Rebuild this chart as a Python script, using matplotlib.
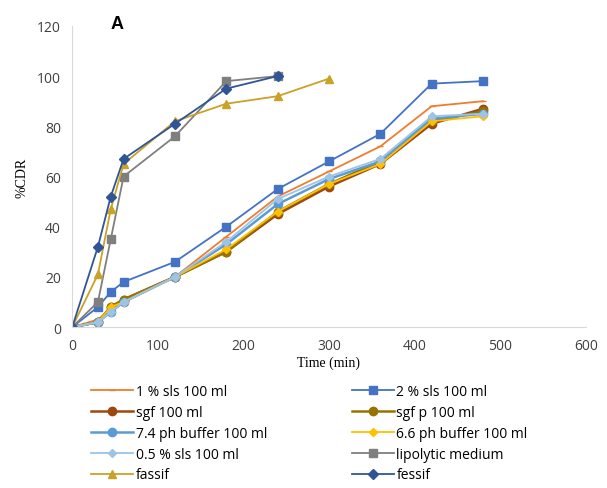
import matplotlib.pyplot as plt

# sampling times (min)
t_long = [0, 30, 45, 60, 120, 180, 240, 300, 360, 420, 480]
t_short = [0, 30, 45, 60, 120, 180, 240]
t_fassif = [0, 30, 45, 60, 120, 180, 240, 300]

# %CDR values
sls1 = [0, 3, 7, 10, 20, 36, 52, 62, 72, 88, 90]
sls2 = [0, 8, 14, 18, 26, 40, 55, 66, 77, 97, 98]
sgf = [0, 2, 8, 11, 20, 30, 45, 56, 65, 81, 87]
sgf_p = [0, 2, 8, 11, 20, 30, 46, 57, 66, 82, 86]
ph74 = [0, 2, 6, 10, 20, 33, 49, 59, 66, 83, 85]
ph66 = [0, 2, 8, 10, 20, 31, 46, 57, 65, 82, 84]
sls05 = [0, 2, 6, 10, 20, 34, 51, 60, 67, 84, 85]
lipolytic = [0, 10, 35, 60, 76, 98, 100]
fassif = [0, 21, 47, 65, 82, 89, 92, 99]
fessif = [0, 32, 52, 67, 81, 95, 100]

fig = plt.figure(figsize=(6.07, 4.89), dpi=100)
ax = fig.add_axes([0.119, 0.329, 0.846, 0.616])

# label, x, y, color, marker, markersize, linewidth
series = [
    ('1 % sls 100 ml', t_long, sls1, '#ED7D31', '_', 4, 1.3),
    ('2 % sls 100 ml', t_long, sls2, '#4472C4', 's', 6, 1.3),
    ('sgf 100 ml', t_long, sgf, '#9E480E', 'o', 6, 1.8),
    ('sgf p 100 ml', t_long, sgf_p, '#997300', 'o', 6, 1.8),
    ('7.4 ph buffer 100 ml', t_long, ph74, '#5B9BD5', 'o', 6, 1.8),
    ('6.6 ph buffer 100 ml', t_long, ph66, '#FFC000', 'D', 4, 1.3),
    ('0.5 % sls 100 ml', t_long, sls05, '#9DC3E6', 'D', 4, 1.3),
    ('lipolytic medium', t_short, lipolytic, '#7F7F7F', 's', 6, 1.3),
    ('fassif', t_fassif, fassif, '#C9A227', '^', 6, 1.3),
    ('fessif', t_short, fessif, '#2F5597', 'D', 5, 1.3),
]

lines = []
for name, x, y, c, m, ms, lw in series:
    l, = ax.plot(x, y, color=c, marker=m, markersize=ms, linewidth=lw,
                 markeredgecolor=c, label=name)
    lines.append(l)

ax.set_xlim(0, 600)
ax.set_ylim(0, 120)
ax.set_xticks(range(0, 601, 100))
ax.set_yticks(range(0, 121, 20))
for s in ['top', 'right']:
    ax.spines[s].set_visible(False)
ax.spines['bottom'].set_color('#D9D9D9')
ax.spines['left'].set_color('#D9D9D9')
ax.tick_params(length=0, labelsize=10, colors='#404040', pad=8)
for lab in ax.get_xticklabels() + ax.get_yticklabels():
    lab.set_family('Open Sans')

ax.set_xlabel('Time (min)', family='Liberation Serif', fontsize=10, labelpad=2)
ax.set_ylabel('%CDR', family='Liberation Serif', fontsize=10, labelpad=6)

fig.text(0.182, 0.941, 'A', fontsize=13, fontweight='bold', family='Liberation Sans')

# legend is filled column by column, so order entries to read row by row
order = list(range(0, 10, 2)) + list(range(1, 10, 2))
fig.legend([lines[i] for i in order], [series[i][0] for i in order],
           loc='upper left', bbox_to_anchor=(0.13, 0.238), ncol=2, frameon=False,
           prop={'family': 'Open Sans', 'size': 10}, handlelength=3.0,
           columnspacing=6.1, labelspacing=0.42, handletextpad=0.2)

fig.savefig('out.png', dpi=100)
